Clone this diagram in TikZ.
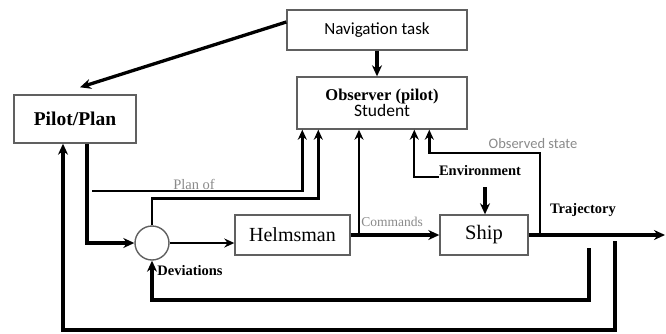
\documentclass[tikz,border=0pt]{standalone}
\usepackage{fontspec}
\setmainfont{Liberation Serif}
\newfontfamily\calfont{Carlito}
\usetikzlibrary{arrows.meta,calc}
\definecolor{boxgray}{HTML}{606060}
\definecolor{lblgray}{HTML}{8A8A8A}
\tikzset{
  blk/.style={draw=boxgray,line width=1.4pt,fill=white,inner sep=0pt},
  thk/.style={line width=3.3pt,-{Stealth[length=11pt,width=10pt]}},
  med/.style={line width=2.4pt,-{Stealth[length=10pt,width=9pt]}},
  thn/.style={line width=1.7pt,-{Stealth[length=10pt,width=9pt]}},
  lbl/.style={inner sep=0pt},
}
\begin{document}
\begin{tikzpicture}[x=1pt,y=-1pt]
\useasboundingbox (0,0) rectangle (666,333);
% boxes
\node[blk,minimum width=180pt,minimum height=40pt] (nav) at (377,30) {\calfont\fontsize{17}{20}\selectfont Navigation task};
\node[blk,minimum width=170pt,minimum height=52pt,align=center] (obs) at (382,103)
  {\fontsize{16.5}{18}\selectfont\bfseries Observer (pilot)\\[-1pt]{\calfont\mdseries\fontsize{17.5}{18}\selectfont Student}};
\node[blk,minimum width=122pt,minimum height=48pt] (pilot) at (75,119) {\fontsize{19.5}{22}\selectfont\bfseries Pilot/Plan};
\node[blk,minimum width=115pt,minimum height=40pt] (helm) at (292.5,235) {\fontsize{20}{22}\selectfont Helmsman};
\node[blk,minimum width=88pt,minimum height=40pt] (ship) at (484,235) {\fontsize{20.5}{22}\selectfont Ship};
\node[draw=boxgray,line width=1.4pt,circle,minimum size=34pt,inner sep=0pt] (sum) at (152,243) {};
% labels
\node[lbl,text=lblgray] (planof) at (194,184) {\fontsize{14.5}{16}\selectfont Plan of};
\node[lbl,text=lblgray] (cmd) at (392,222) {\fontsize{13.5}{15}\selectfont Commands};
\node[lbl,text=lblgray] (obst) at (533,144) {\calfont\fontsize{14.5}{16}\selectfont Observed state};
\node[lbl] (env) at (480,171) {\fontsize{14.5}{16}\selectfont\bfseries Environment};
\node[lbl] (traj) at (583,210) {\fontsize{14.5}{16}\selectfont\bfseries Trajectory};
\node[lbl] (dev) at (190,271) {\fontsize{14.5}{16}\selectfont\bfseries Deviations};
% coordinates
\coordinate (pl) at (92,191);
\coordinate (cm) at (359,235);
\coordinate (os) at (540,235);
\coordinate (osc) at (540,153);
\coordinate (out) at (665,235);
\coordinate (f1) at (589,248);
\coordinate (f1b) at (589,300);
\coordinate (f2) at (615,241);
\coordinate (f2b) at (615,330);
% connectors
\draw[thk] ([yshift=8pt]nav.west) -- ([xshift=5pt,yshift=7pt]pilot.north);
\draw[thk] (nav.south) -- (nav.south |- obs.north);
\draw[thk] ([xshift=12pt]pilot.south) |- (sum.west);
\draw[med] (pl) -| ([xshift=6pt]obs.south west);
\draw[med] (sum.north) -- ++(0,-27) -| ([xshift=22pt]obs.south west);
\draw[thn] (sum.east) -- (sum.east -| helm.west);
\draw[thk] (helm.east |- cm) -- (ship.west |- cm);
\draw[med] (cm) -- (cm |- obs.south);
\draw[thn] ([yshift=-6pt]env.west) -| ([xshift=118pt]obs.south west);
\draw[thk] ([xshift=5pt,yshift=-11pt]env.south) -- ([xshift=1pt]ship.north);
\draw[thk] (ship.east) -- (out);
\draw[med] (os) -- (osc) -| ([xshift=133pt]obs.south west);
\draw[thk] (f1) -- (f1b) -| (sum.south);
\draw[thk] (f2) -- (f2b) -| ([xshift=-12pt]pilot.south);
\end{tikzpicture}
\end{document}
